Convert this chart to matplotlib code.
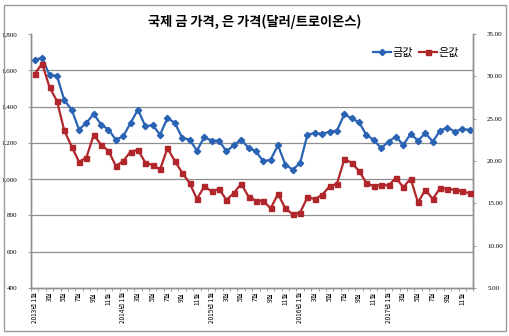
import matplotlib

matplotlib.use("Agg")
import matplotlib.pyplot as plt
from matplotlib.patches import Rectangle
from matplotlib.ticker import FixedLocator, FuncFormatter

plt.rcParams["font.family"] = ["Noto Sans CJK KR", "DejaVu Sans"]

# monthly prices, 2013-01 .. 2017-12
years = [2013, 2014, 2015, 2016, 2017]
gold = [1658, 1668, 1572, 1570, 1435, 1383, 1273, 1310, 1359, 1300,
        1273, 1217, 1236, 1310, 1383, 1291, 1297, 1245, 1337, 1310,
        1227, 1218, 1157, 1231, 1212, 1212, 1153, 1186, 1218, 1172,
        1153, 1098, 1107, 1186, 1080, 1052, 1089, 1245, 1254, 1249,
        1262, 1267, 1357, 1335, 1313, 1243, 1216, 1170, 1207, 1234,
        1188, 1249, 1212, 1253, 1207, 1267, 1284, 1262, 1276, 1271]
silver = [30.3, 31.5, 28.7, 27.1, 23.6, 21.7, 19.9, 20.4, 23.1, 21.9,
          21.2, 19.4, 20.0, 21.1, 21.3, 19.8, 19.5, 19.0, 21.5, 20.0,
          18.6, 17.4, 15.5, 17.0, 16.4, 16.7, 15.4, 16.2, 17.3, 15.8,
          15.3, 15.3, 14.4, 16.1, 14.4, 13.7, 13.9, 15.7, 15.5, 16.0,
          17.0, 17.3, 20.2, 19.8, 18.8, 17.4, 17.0, 17.2, 17.1, 18.0,
          16.9, 17.9, 15.1, 16.6, 15.5, 16.8, 16.7, 16.6, 16.4, 16.2]
gold_ticks = [400, 600, 800, 1000, 1200, 1400, 1600, 1800]
silver_ticks = [5, 10, 15, 20, 25, 30, 35]

months = [f"{y}년 1월" if m == 1 else f"{m}월" for y in years for m in range(1, 13)]
x = list(range(len(months)))

BLUE = "#2A62B4"
RED = "#B0262B"
GRID = "#8f8f8f"

fig = plt.figure(figsize=(5.1, 3.36), dpi=100)
fig.patches.append(Rectangle((0.008, 0.014), 0.984, 0.972, transform=fig.transFigure,
                             fill=False, edgecolor="#9a9a9a", linewidth=1.0))

ax = fig.add_axes([0.061, 0.143, 0.867, 0.756])
ax2 = ax.twinx()

ax.plot(x, gold, color=BLUE, lw=1.6, marker="D", ms=3.2, label="금값", zorder=3)
ax2.plot(x, silver, color=RED, lw=1.6, marker="s", ms=3.6, label="은값", zorder=3)

ax.set_xlim(-0.5, len(x) - 0.5)
ax.set_ylim(400, 1800)
ax.yaxis.set_major_locator(FixedLocator(gold_ticks))
ax.yaxis.set_major_formatter(FuncFormatter(lambda v, _: f"{v:,.0f}"))
ax2.set_ylim(5, 35)
ax2.yaxis.set_major_locator(FixedLocator(silver_ticks))
ax2.yaxis.set_major_formatter(FuncFormatter(lambda v, _: f"{v:.2f}"))

for v in gold_ticks[1:-1]:
    ax.axhline(v, color=GRID, lw=0.9, zorder=1)

ax.set_xticks(x[::2])
ax.set_xticklabels(months[::2], rotation=90, fontsize=4.6)
ax.set_xticks([i - 0.5 for i in range(len(x) + 1)], minor=True)
ax.tick_params(axis="x", which="major", length=0, pad=3)
ax.tick_params(axis="x", which="minor", length=2, width=0.6, color=GRID)
ax.tick_params(axis="y", length=2, width=0.6, color=GRID, pad=8)
ax2.tick_params(axis="y", length=2, width=0.6, color=GRID, pad=8)
for lbl in ax.get_yticklabels() + ax2.get_yticklabels():
    lbl.set_fontfamily("Liberation Serif")
    lbl.set_fontsize(5)

for a in (ax, ax2):
    a.spines["top"].set_visible(False)
    for s in ("left", "right", "bottom"):
        a.spines[s].set_color(GRID)
        a.spines[s].set_linewidth(1.0)

fig.text(0.5, 0.935, "국제 금 가격, 은 가격(달러/트로이온스)", ha="center", va="center",
         fontsize=9.5, fontweight="bold")

handles = ax.get_lines()[:1] + ax2.get_lines()[:1]
ax.legend(handles, [h.get_label() for h in handles], loc="upper right",
          bbox_to_anchor=(0.99, 0.985), ncol=2, frameon=False, fontsize=8,
          handlelength=1.6, handletextpad=0.1, columnspacing=0.6)

fig.savefig("out.png", dpi=100)
